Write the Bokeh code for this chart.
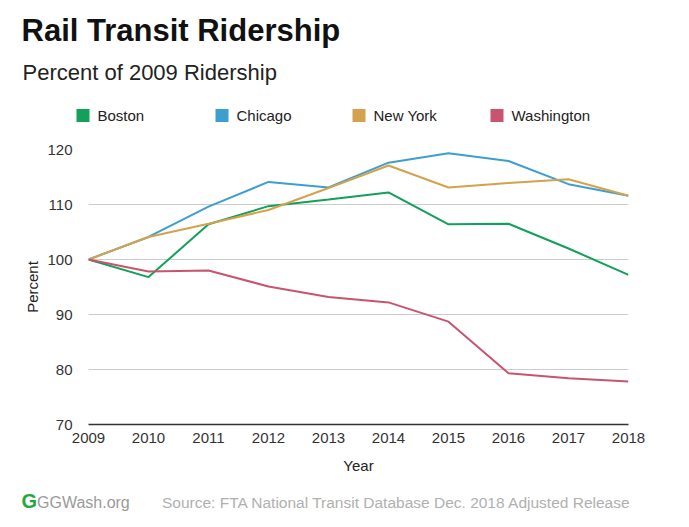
from bokeh.plotting import figure
from bokeh.models import Range1d, Label, BoxAnnotation, FixedTicker
from bokeh.layouts import column
from bokeh.embed import file_html
from bokeh.resources import INLINE

# percent of 2009 ridership
years = [2009, 2010, 2011, 2012, 2013, 2014, 2015, 2016, 2017, 2018]
boston = [100, 96.8, 106.4, 109.7, 110.9, 112.2, 106.4, 106.5, 102.0, 97.2]
chicago = [100, 104.1, 109.6, 114.1, 113.1, 117.6, 119.3, 117.9, 113.7, 111.6]
new_york = [100, 104.1, 106.5, 109.0, 113.0, 117.1, 113.1, 113.9, 114.6, 111.6]
washington = [100, 97.8, 98.0, 95.1, 93.2, 92.2, 88.7, 79.3, 78.4, 77.8]

cities = ["Boston", "Chicago", "New York", "Washington"]
colors = ["#12a05a", "#3d9fd0", "#d4a24c", "#c8546e"]
y_ticks = [70, 80, 90, 100, 110, 120]

FONT = "Liberation Sans"
W = 680


def blank(height, top, bottom):
    # a figure with no axes whose frame is the whole canvas, y grows downwards
    f = figure(width=W, height=height, output_backend="svg", toolbar_location=None,
               x_range=Range1d(0, W), y_range=Range1d(bottom, top),
               x_axis_location=None, y_axis_location=None, min_border=0)
    f.outline_line_color = None
    f.xgrid.visible = False
    f.ygrid.visible = False
    f.frame_align = False
    return f


# header: title, subtitle, legend
head = blank(135, 0, 135)
head.add_layout(Label(x=21, y=30, text="Rail Transit Ridership", text_font=FONT,
                      text_font_size="31px", text_font_style="bold",
                      text_color="#111111", text_baseline="middle"))
head.add_layout(Label(x=22, y=71.5, text="Percent of 2009 Ridership", text_font=FONT,
                      text_font_size="22px", text_color="#222222",
                      text_baseline="middle"))
sq_x = [76, 215, 352, 490]
for name, c, sx in zip(cities, colors, sq_x):
    head.add_layout(BoxAnnotation(left=sx, right=sx + 13, top=108.5, bottom=121.5,
                                  fill_color=c, fill_alpha=1, line_color=None))
    head.add_layout(Label(x=sx + 21, y=115, text=name, text_font=FONT,
                          text_font_size="15px", text_color="#222222",
                          text_baseline="middle"))

# main chart
p = figure(width=W, height=350, output_backend="svg", toolbar_location=None,
           x_range=Range1d(2009, 2018), y_range=Range1d(70, 120),
           min_border_left=88, min_border_right=W - 628, min_border_top=14,
           min_border_bottom=61)
p.outline_line_color = None
p.frame_align = False

series = [boston, chicago, new_york, washington]
for vals, c in zip(series, colors):
    p.line(years, vals, line_color=c, line_width=2)

p.xaxis.ticker = FixedTicker(ticks=years)
p.yaxis.ticker = FixedTicker(ticks=y_ticks)
p.xgrid.grid_line_color = None
p.ygrid.grid_line_color = "#cccccc"
p.ygrid.grid_line_width = 1

for ax in (p.xaxis[0], p.yaxis[0]):
    ax.major_tick_line_color = None
    ax.minor_tick_line_color = None
    ax.major_label_text_font = FONT
    ax.major_label_text_font_size = "15px"
    ax.major_label_text_color = "#333333"
    ax.axis_label_text_font = FONT
    ax.axis_label_text_font_size = "15px"
    ax.axis_label_text_font_style = "normal"
    ax.axis_label_text_color = "#222222"

p.xaxis.axis_line_color = "#333333"
p.xaxis.axis_line_width = 1.5
p.xaxis.major_label_standoff = 2
p.xaxis.axis_label = "Year"
p.xaxis.axis_label_standoff = 11
p.yaxis.axis_line_color = None
p.yaxis.major_label_standoff = 10
p.yaxis.axis_label = "Percent"
p.yaxis.axis_label_standoff = 3

# footer
foot = blank(35, 485, 520)
foot.add_layout(Label(x=21, y=500, text="G", text_font=FONT, text_font_size="20px",
                      text_font_style="bold", text_color="#22a93c",
                      text_baseline="middle"))
foot.add_layout(Label(x=36.5, y=502, text="GGWash.org", text_font=FONT,
                      text_font_size="16px", text_color="#9a9a9a",
                      text_baseline="middle"))
foot.add_layout(Label(x=161.5, y=502,
                      text="Source: FTA National Transit Database Dec. 2018 Adjusted Release",
                      text_font=FONT, text_font_size="15.5px", text_color="#b0b0b0",
                      text_baseline="middle"))

page = column(head, p, foot)
open("out.html", "w").write(file_html(page, INLINE))
